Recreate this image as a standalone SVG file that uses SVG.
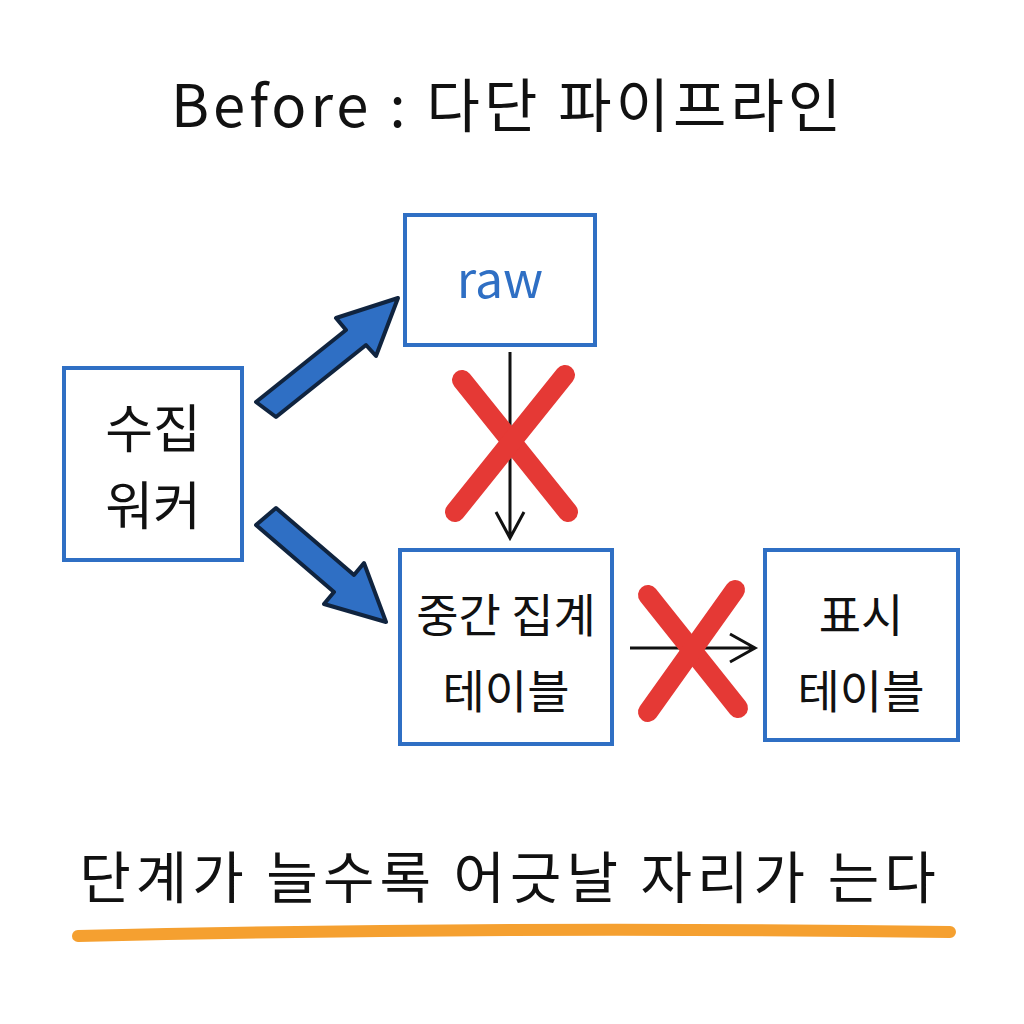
<svg xmlns="http://www.w3.org/2000/svg" width="1024" height="1024" viewBox="0 0 1024 1024">
<style>
.box{fill:#fff;stroke:#2f6fc4;stroke-width:4}
.t{font-family:"Noto Sans CJK KR","Noto Sans",sans-serif;fill:#111;text-anchor:middle}
.x{stroke:#e53935;stroke-width:20;stroke-linecap:round}
.thin{stroke:#111;stroke-width:3;fill:none}
.big{fill:#2f6fc4;stroke:#10243f;stroke-width:4;stroke-linejoin:round}
</style>
<rect width="1024" height="1024" fill="#fff"/>
<text class="t" x="508" y="127" font-size="58" letter-spacing="4">Before : 다단 파이프라인</text>
<g id="worker"><rect class="box" x="64" y="368" width="178" height="192"/>
<text class="t" x="153" y="448" font-size="52">수집</text><text class="t" x="153" y="525" font-size="52">워커</text></g>
<g id="raw"><rect class="box" x="405" y="215" width="190" height="130"/>
<text class="t" x="500" y="298" font-size="50" style="fill:#2f6fc4">raw</text></g>
<g id="mid"><rect class="box" x="400" y="550" width="212" height="194"/>
<text class="t" x="506" y="632" font-size="46">중간 집계</text><text class="t" x="506" y="708" font-size="46">테이블</text></g>
<g id="disp"><rect class="box" x="765" y="550" width="193" height="190"/>
<text class="t" x="861" y="632" font-size="46">표시</text><text class="t" x="861" y="708" font-size="46">테이블</text></g>
<g id="connectors">
<path class="big" d="M256,402 L346,330 L336,318 L398,298 L376,356 L366,345 L276,417 Z"/>
<path class="big" d="M276,508 L354,575 L364,563 L386,622 L324,604 L334,592 L256,525 Z"/>
<path class="thin" d="M510,352 V538 M496,512 L510,538 L524,512"/>
<path class="thin" d="M630,648 H755 M730,634 L755,648 L730,662"/>
<line class="x" x1="462" y1="380" x2="568" y2="512"/>
<line class="x" x1="565" y1="375" x2="455" y2="512"/>
<line class="x" x1="648" y1="595" x2="738" y2="708"/>
<line class="x" x1="735" y1="590" x2="648" y2="712"/>
</g>
<text class="t" x="510" y="898" font-size="56" letter-spacing="5">단계가 늘수록 어긋날 자리가 는다</text>
<path d="M78,936 Q500,926 950,932" stroke="#f5a030" stroke-width="12" stroke-linecap="round" fill="none"/>
</svg>
